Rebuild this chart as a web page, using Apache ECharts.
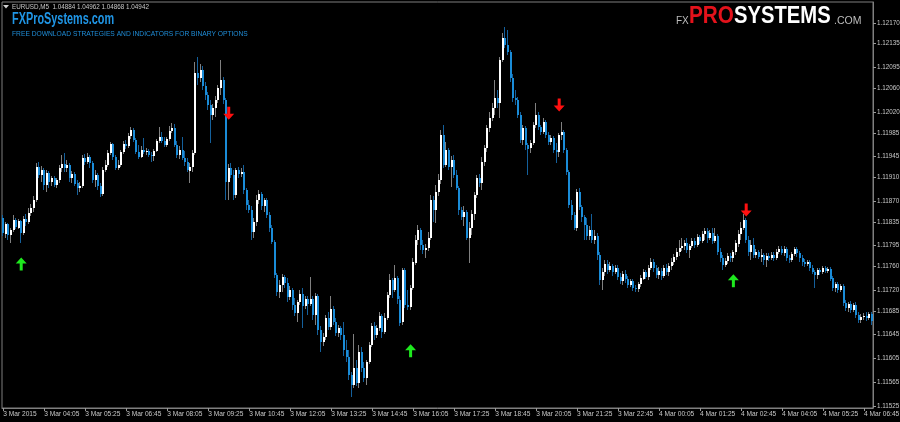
<!DOCTYPE html>
<html>
<head>
<meta charset="utf-8">
<script src="https://cdn.jsdelivr.net/npm/echarts@6/dist/echarts.min.js"></script>
<style>
  html, body { margin: 0; padding: 0; background: #000; }
</style>
</head>
<body>
<div id="main" style="width: 900px;height: 422px"></div>
<script>
// EURUSD M5, one entry per bar
const opens = [
  1.11842, 1.11816, 1.11832, 1.11813, 1.11821, 1.11838, 1.11826, 1.11837, 1.11816, 1.11840,
  1.11835, 1.11850, 1.11858, 1.11872, 1.11928, 1.11914, 1.11922, 1.11897, 1.11917, 1.11902,
  1.11909, 1.11897, 1.11906, 1.11926, 1.11933, 1.11926, 1.11931, 1.11909, 1.11916, 1.11900,
  1.11892, 1.11896, 1.11943, 1.11936, 1.11944, 1.11934, 1.11906, 1.11914, 1.11896, 1.11882,
  1.11922, 1.11931, 1.11951, 1.11966, 1.11944, 1.11926, 1.11931, 1.11953, 1.11966, 1.11963,
  1.11980, 1.11990, 1.11973, 1.11953, 1.11944, 1.11956, 1.11953, 1.11954, 1.11948, 1.11946,
  1.11954, 1.11971, 1.11978, 1.11971, 1.11965, 1.11975, 1.11988, 1.11993, 1.11965, 1.11948,
  1.11956, 1.11943, 1.11936, 1.11922, 1.11928, 1.11951, 1.12086, 1.12077, 1.12091, 1.12064,
  1.12049, 1.12032, 1.12015, 1.12027, 1.12040, 1.12060, 1.12074, 1.12040, 1.11902, 1.11926,
  1.11914, 1.11880, 1.11922, 1.11916, 1.11919, 1.11889, 1.11864, 1.11855, 1.11818, 1.11835,
  1.11872, 1.11882, 1.11862, 1.11872, 1.11847, 1.11825, 1.11801, 1.11746, 1.11717, 1.11729,
  1.11742, 1.11732, 1.11708, 1.11720, 1.11695, 1.11682, 1.11700, 1.11714, 1.11693, 1.11705,
  1.11697, 1.11705, 1.11678, 1.11710, 1.11653, 1.11633, 1.11641, 1.11673, 1.11658, 1.11688,
  1.11666, 1.11648, 1.11656, 1.11645, 1.11619, 1.11607, 1.11577, 1.11560, 1.11589, 1.11564,
  1.11616, 1.11589, 1.11572, 1.11599, 1.11628, 1.11660, 1.11645, 1.11656, 1.11677, 1.11650,
  1.11673, 1.11712, 1.11737, 1.11720, 1.11740, 1.11704, 1.11666, 1.11754, 1.11695, 1.11692,
  1.11724, 1.11767, 1.11805, 1.11821, 1.11796, 1.11788, 1.11791, 1.11808, 1.11872, 1.11855,
  1.11885, 1.11906, 1.11981, 1.11931, 1.11956, 1.11928, 1.11939, 1.11914, 1.11892, 1.11855,
  1.11843, 1.11852, 1.11808, 1.11825, 1.11848, 1.11880, 1.11909, 1.11900, 1.11936, 1.11959,
  1.11993, 1.12010, 1.12027, 1.12044, 1.12035, 1.12108, 1.12145, 1.12133, 1.12121, 1.12077,
  1.12044, 1.12040, 1.12015, 1.11973, 1.11993, 1.11965, 1.11959, 1.11968, 1.11998, 1.12015,
  1.11995, 1.11986, 1.12003, 1.11981, 1.11970, 1.11976, 1.11956, 1.11953, 1.11981, 1.11986,
  1.11956, 1.11919, 1.11864, 1.11847, 1.11825, 1.11885, 1.11860, 1.11843, 1.11830, 1.11811,
  1.11821, 1.11805, 1.11811, 1.11779, 1.11737, 1.11751, 1.11764, 1.11754, 1.11761, 1.11751,
  1.11757, 1.11742, 1.11735, 1.11747, 1.11739, 1.11729, 1.11735, 1.11724, 1.11722, 1.11730,
  1.11740, 1.11751, 1.11742, 1.11757, 1.11767, 1.11757, 1.11746, 1.11752, 1.11744, 1.11757,
  1.11751, 1.11761, 1.11767, 1.11776, 1.11784, 1.11791, 1.11794, 1.11799, 1.11788, 1.11794,
  1.11803, 1.11796, 1.11810, 1.11803, 1.11815, 1.11820, 1.11808, 1.11816, 1.11803, 1.11811,
  1.11784, 1.11774, 1.11762, 1.11769, 1.11778, 1.11774, 1.11784, 1.11799, 1.11815, 1.11825,
  1.11838, 1.11805, 1.11784, 1.11796, 1.11779, 1.11784, 1.11776, 1.11779, 1.11771, 1.11778,
  1.11774, 1.11779, 1.11774, 1.11784, 1.11789, 1.11783, 1.11789, 1.11774, 1.11771, 1.11781,
  1.11789, 1.11783, 1.11774, 1.11767, 1.11764, 1.11767, 1.11757, 1.11751, 1.11746, 1.11754,
  1.11751, 1.11757, 1.11752, 1.11756, 1.11740, 1.11724, 1.11730, 1.11720, 1.11727, 1.11698,
  1.11690, 1.11697, 1.11687, 1.11695, 1.11678, 1.11670, 1.11675, 1.11677, 1.11673, 1.11680
];
const closes = [
  1.11816, 1.11832, 1.11813, 1.11821, 1.11838, 1.11826, 1.11837, 1.11816, 1.11840, 1.11835,
  1.11850, 1.11858, 1.11872, 1.11928, 1.11914, 1.11922, 1.11897, 1.11917, 1.11902, 1.11909,
  1.11897, 1.11906, 1.11926, 1.11933, 1.11926, 1.11931, 1.11909, 1.11916, 1.11900, 1.11892,
  1.11896, 1.11943, 1.11936, 1.11944, 1.11934, 1.11906, 1.11914, 1.11896, 1.11882, 1.11922,
  1.11931, 1.11951, 1.11966, 1.11944, 1.11926, 1.11931, 1.11953, 1.11966, 1.11963, 1.11980,
  1.11990, 1.11973, 1.11953, 1.11944, 1.11956, 1.11953, 1.11954, 1.11948, 1.11946, 1.11954,
  1.11971, 1.11978, 1.11971, 1.11965, 1.11975, 1.11988, 1.11993, 1.11965, 1.11948, 1.11956,
  1.11943, 1.11936, 1.11922, 1.11928, 1.11951, 1.12086, 1.12077, 1.12091, 1.12064, 1.12049,
  1.12032, 1.12015, 1.12027, 1.12040, 1.12060, 1.12074, 1.12040, 1.11902, 1.11926, 1.11914,
  1.11880, 1.11922, 1.11916, 1.11919, 1.11889, 1.11864, 1.11855, 1.11818, 1.11835, 1.11872,
  1.11882, 1.11862, 1.11872, 1.11847, 1.11825, 1.11801, 1.11746, 1.11717, 1.11729, 1.11742,
  1.11732, 1.11708, 1.11720, 1.11695, 1.11682, 1.11700, 1.11714, 1.11693, 1.11705, 1.11697,
  1.11705, 1.11678, 1.11710, 1.11653, 1.11633, 1.11641, 1.11673, 1.11658, 1.11688, 1.11666,
  1.11648, 1.11656, 1.11645, 1.11619, 1.11607, 1.11577, 1.11560, 1.11589, 1.11564, 1.11616,
  1.11589, 1.11572, 1.11599, 1.11628, 1.11660, 1.11645, 1.11656, 1.11677, 1.11650, 1.11673,
  1.11712, 1.11737, 1.11720, 1.11740, 1.11704, 1.11666, 1.11754, 1.11695, 1.11692, 1.11724,
  1.11767, 1.11805, 1.11821, 1.11796, 1.11788, 1.11791, 1.11808, 1.11872, 1.11855, 1.11885,
  1.11906, 1.11981, 1.11931, 1.11956, 1.11928, 1.11939, 1.11914, 1.11892, 1.11855, 1.11843,
  1.11852, 1.11808, 1.11825, 1.11848, 1.11880, 1.11909, 1.11900, 1.11936, 1.11959, 1.11993,
  1.12010, 1.12027, 1.12044, 1.12035, 1.12108, 1.12145, 1.12133, 1.12121, 1.12077, 1.12044,
  1.12040, 1.12015, 1.11973, 1.11993, 1.11965, 1.11959, 1.11968, 1.11998, 1.12015, 1.11995,
  1.11986, 1.12003, 1.11981, 1.11970, 1.11976, 1.11956, 1.11953, 1.11981, 1.11986, 1.11956,
  1.11919, 1.11864, 1.11847, 1.11825, 1.11885, 1.11860, 1.11843, 1.11830, 1.11811, 1.11821,
  1.11805, 1.11811, 1.11779, 1.11737, 1.11751, 1.11764, 1.11754, 1.11761, 1.11751, 1.11757,
  1.11742, 1.11735, 1.11747, 1.11739, 1.11729, 1.11735, 1.11724, 1.11722, 1.11730, 1.11740,
  1.11751, 1.11742, 1.11757, 1.11767, 1.11757, 1.11746, 1.11752, 1.11744, 1.11757, 1.11751,
  1.11761, 1.11767, 1.11776, 1.11784, 1.11791, 1.11794, 1.11799, 1.11788, 1.11794, 1.11803,
  1.11796, 1.11810, 1.11803, 1.11815, 1.11820, 1.11808, 1.11816, 1.11803, 1.11811, 1.11784,
  1.11774, 1.11762, 1.11769, 1.11778, 1.11774, 1.11784, 1.11799, 1.11815, 1.11825, 1.11838,
  1.11805, 1.11784, 1.11796, 1.11779, 1.11784, 1.11776, 1.11779, 1.11771, 1.11778, 1.11774,
  1.11779, 1.11774, 1.11784, 1.11789, 1.11783, 1.11789, 1.11774, 1.11771, 1.11781, 1.11789,
  1.11783, 1.11774, 1.11767, 1.11764, 1.11767, 1.11757, 1.11751, 1.11746, 1.11754, 1.11751,
  1.11757, 1.11752, 1.11756, 1.11740, 1.11724, 1.11730, 1.11720, 1.11727, 1.11698, 1.11690,
  1.11697, 1.11687, 1.11695, 1.11678, 1.11670, 1.11675, 1.11677, 1.11673, 1.11680, 1.11668
];
const lows = [
  1.11811, 1.11808, 1.11805, 1.11799, 1.11818, 1.11823, 1.11823, 1.11799, 1.11813, 1.11828,
  1.11832, 1.11845, 1.11852, 1.11869, 1.11909, 1.11902, 1.11889, 1.11885, 1.11892, 1.11896,
  1.11894, 1.11892, 1.11900, 1.11919, 1.11919, 1.11919, 1.11902, 1.11900, 1.11896, 1.11880,
  1.11885, 1.11892, 1.11931, 1.11933, 1.11926, 1.11900, 1.11894, 1.11889, 1.11877, 1.11879,
  1.11919, 1.11928, 1.11948, 1.11939, 1.11922, 1.11922, 1.11928, 1.11949, 1.11958, 1.11959,
  1.11975, 1.11970, 1.11949, 1.11941, 1.11943, 1.11949, 1.11948, 1.11944, 1.11936, 1.11938,
  1.11953, 1.11968, 1.11968, 1.11961, 1.11961, 1.11971, 1.11985, 1.11961, 1.11943, 1.11941,
  1.11939, 1.11929, 1.11919, 1.11900, 1.11919, 1.11948, 1.12066, 1.12071, 1.12057, 1.12040,
  1.12023, 1.11968, 1.12007, 1.12012, 1.12035, 1.12049, 1.12034, 1.11872, 1.11872, 1.11909,
  1.11872, 1.11875, 1.11909, 1.11911, 1.11882, 1.11855, 1.11850, 1.11805, 1.11808, 1.11828,
  1.11865, 1.11855, 1.11852, 1.11842, 1.11818, 1.11798, 1.11740, 1.11710, 1.11707, 1.11717,
  1.11724, 1.11700, 1.11704, 1.11687, 1.11677, 1.11666, 1.11695, 1.11656, 1.11688, 1.11678,
  1.11693, 1.11670, 1.11661, 1.11645, 1.11616, 1.11626, 1.11636, 1.11653, 1.11653, 1.11661,
  1.11643, 1.11641, 1.11636, 1.11609, 1.11599, 1.11569, 1.11540, 1.11555, 1.11559, 1.11555,
  1.11582, 1.11565, 1.11560, 1.11596, 1.11624, 1.11636, 1.11639, 1.11651, 1.11639, 1.11646,
  1.11670, 1.11707, 1.11707, 1.11717, 1.11697, 1.11660, 1.11661, 1.11690, 1.11687, 1.11687,
  1.11720, 1.11762, 1.11796, 1.11788, 1.11781, 1.11774, 1.11786, 1.11805, 1.11835, 1.11833,
  1.11879, 1.11899, 1.11926, 1.11928, 1.11922, 1.11894, 1.11909, 1.11889, 1.11847, 1.11838,
  1.11828, 1.11805, 1.11766, 1.11813, 1.11838, 1.11875, 1.11894, 1.11889, 1.11929, 1.11953,
  1.11986, 1.12005, 1.12015, 1.12027, 1.12010, 1.12104, 1.12128, 1.12116, 1.12071, 1.12037,
  1.12032, 1.12010, 1.11968, 1.11965, 1.11956, 1.11914, 1.11951, 1.11965, 1.11993, 1.11990,
  1.11981, 1.11983, 1.11976, 1.11965, 1.11965, 1.11951, 1.11934, 1.11944, 1.11973, 1.11951,
  1.11914, 1.11858, 1.11838, 1.11821, 1.11820, 1.11855, 1.11835, 1.11805, 1.11805, 1.11805,
  1.11799, 1.11798, 1.11771, 1.11729, 1.11720, 1.11744, 1.11747, 1.11751, 1.11744, 1.11747,
  1.11737, 1.11730, 1.11729, 1.11732, 1.11724, 1.11725, 1.11719, 1.11717, 1.11717, 1.11725,
  1.11737, 1.11739, 1.11737, 1.11754, 1.11751, 1.11740, 1.11739, 1.11737, 1.11740, 1.11746,
  1.11744, 1.11754, 1.11762, 1.11771, 1.11778, 1.11786, 1.11788, 1.11783, 1.11774, 1.11791,
  1.11791, 1.11793, 1.11798, 1.11799, 1.11805, 1.11799, 1.11805, 1.11798, 1.11799, 1.11779,
  1.11767, 1.11754, 1.11759, 1.11764, 1.11767, 1.11767, 1.11779, 1.11793, 1.11805, 1.11821,
  1.11799, 1.11778, 1.11771, 1.11774, 1.11774, 1.11772, 1.11767, 1.11762, 1.11759, 1.11769,
  1.11771, 1.11769, 1.11771, 1.11781, 1.11779, 1.11778, 1.11769, 1.11766, 1.11767, 1.11778,
  1.11776, 1.11767, 1.11761, 1.11759, 1.11761, 1.11752, 1.11747, 1.11724, 1.11739, 1.11746,
  1.11747, 1.11749, 1.11749, 1.11735, 1.11719, 1.11717, 1.11715, 1.11717, 1.11693, 1.11685,
  1.11683, 1.11682, 1.11683, 1.11673, 1.11665, 1.11665, 1.11670, 1.11668, 1.11670, 1.11661
];
const highs = [
  1.11847, 1.11835, 1.11833, 1.11825, 1.11847, 1.11842, 1.11840, 1.11838, 1.11845, 1.11848,
  1.11858, 1.11865, 1.11879, 1.11934, 1.11936, 1.11929, 1.11926, 1.11922, 1.11921, 1.11912,
  1.11912, 1.11909, 1.11931, 1.11948, 1.11951, 1.11939, 1.11934, 1.11921, 1.11919, 1.11906,
  1.11902, 1.11948, 1.11949, 1.11951, 1.11948, 1.11938, 1.11922, 1.11917, 1.11900, 1.11928,
  1.11939, 1.11956, 1.11970, 1.11968, 1.11948, 1.11939, 1.11956, 1.11971, 1.11973, 1.11985,
  1.11995, 1.11993, 1.11976, 1.11965, 1.11963, 1.11976, 1.11959, 1.11958, 1.11953, 1.11958,
  1.11975, 1.11995, 1.11986, 1.11978, 1.11978, 1.11997, 1.12002, 1.12000, 1.11971, 1.11963,
  1.11978, 1.11954, 1.11943, 1.11934, 1.11956, 1.12104, 1.12113, 1.12101, 1.12098, 1.12071,
  1.12054, 1.12040, 1.12034, 1.12047, 1.12066, 1.12108, 1.12079, 1.12044, 1.11933, 1.11934,
  1.11922, 1.11926, 1.11928, 1.11926, 1.11931, 1.11892, 1.11872, 1.11862, 1.11842, 1.11880,
  1.11889, 1.11885, 1.11875, 1.11875, 1.11852, 1.11830, 1.11805, 1.11749, 1.11737, 1.11747,
  1.11746, 1.11740, 1.11727, 1.11724, 1.11707, 1.11704, 1.11720, 1.11724, 1.11710, 1.11710,
  1.11742, 1.11710, 1.11715, 1.11714, 1.11660, 1.11648, 1.11678, 1.11683, 1.11710, 1.11693,
  1.11673, 1.11661, 1.11660, 1.11666, 1.11636, 1.11619, 1.11582, 1.11646, 1.11602, 1.11628,
  1.11624, 1.11599, 1.11602, 1.11633, 1.11665, 1.11666, 1.11661, 1.11683, 1.11680, 1.11682,
  1.11717, 1.11747, 1.11740, 1.11762, 1.11744, 1.11710, 1.11757, 1.11757, 1.11720, 1.11729,
  1.11774, 1.11813, 1.11830, 1.11825, 1.11805, 1.11798, 1.11818, 1.11880, 1.11879, 1.11897,
  1.11916, 1.11990, 1.11998, 1.11970, 1.11959, 1.11946, 1.11948, 1.11922, 1.11896, 1.11860,
  1.11862, 1.11855, 1.11835, 1.11855, 1.11885, 1.11914, 1.11916, 1.11944, 1.11965, 1.11998,
  1.12020, 1.12035, 1.12074, 1.12057, 1.12113, 1.12153, 1.12163, 1.12158, 1.12124, 1.12084,
  1.12057, 1.12045, 1.12020, 1.11998, 1.11997, 1.11968, 1.11973, 1.12003, 1.12035, 1.12020,
  1.11998, 1.12010, 1.12007, 1.11986, 1.11981, 1.11980, 1.11968, 1.11985, 1.12003, 1.11990,
  1.11959, 1.11922, 1.11872, 1.11852, 1.11890, 1.11892, 1.11864, 1.11847, 1.11842, 1.11828,
  1.11848, 1.11821, 1.11816, 1.11784, 1.11757, 1.11771, 1.11771, 1.11767, 1.11764, 1.11762,
  1.11762, 1.11749, 1.11752, 1.11754, 1.11744, 1.11739, 1.11739, 1.11729, 1.11734, 1.11746,
  1.11756, 1.11754, 1.11762, 1.11774, 1.11772, 1.11762, 1.11759, 1.11757, 1.11762, 1.11764,
  1.11766, 1.11774, 1.11781, 1.11791, 1.11805, 1.11808, 1.11805, 1.11808, 1.11798, 1.11808,
  1.11808, 1.11815, 1.11813, 1.11820, 1.11825, 1.11825, 1.11821, 1.11825, 1.11825, 1.11815,
  1.11791, 1.11779, 1.11774, 1.11783, 1.11783, 1.11788, 1.11805, 1.11821, 1.11835, 1.11848,
  1.11842, 1.11811, 1.11805, 1.11808, 1.11789, 1.11788, 1.11789, 1.11783, 1.11783, 1.11783,
  1.11784, 1.11784, 1.11789, 1.11794, 1.11794, 1.11794, 1.11793, 1.11779, 1.11784, 1.11793,
  1.11793, 1.11786, 1.11779, 1.11772, 1.11771, 1.11771, 1.11762, 1.11754, 1.11757, 1.11757,
  1.11761, 1.11761, 1.11759, 1.11759, 1.11744, 1.11734, 1.11734, 1.11730, 1.11730, 1.11704,
  1.11700, 1.11702, 1.11698, 1.11700, 1.11683, 1.11680, 1.11682, 1.11683, 1.11683, 1.11683
];

// time labels under the axis, one every 16 bars
const tickLabels = [
  '3 Mar 2015', '3 Mar 04:05', '3 Mar 05:25', '3 Mar 06:45', '3 Mar 08:05', '3 Mar 09:25',
  '3 Mar 10:45', '3 Mar 12:05', '3 Mar 13:25', '3 Mar 14:45', '3 Mar 16:05', '3 Mar 17:25',
  '3 Mar 18:45', '3 Mar 20:05', '3 Mar 21:25', '3 Mar 22:45', '4 Mar 00:05', '4 Mar 01:25',
  '4 Mar 02:45', '4 Mar 04:05', '4 Mar 05:25', '4 Mar 06:45'
];
const priceTicks = [
  1.11525, 1.11565, 1.11605, 1.11645, 1.11685, 1.11720, 1.11760, 1.11795, 1.11835,
  1.11870, 1.11910, 1.11945, 1.11985, 1.12020, 1.12060, 1.12095, 1.12135, 1.12170
];

// indicator arrows
const buyBars = [7, 159, 285];
const buyPrices = [1.11764, 1.11618, 1.11736];
const sellBars = [88, 217, 290];
const sellPrices = [1.12018, 1.12032, 1.11855];

const barIdx = opens.map((o, i) => i);
const candleData = opens.map((o, i) => [i, o, closes[i], lows[i], highs[i]]);

const arrowPath = 'path://M4,13 L4,6 L0,6 L5.5,0 L11,6 L7,6 L7,13 Z';
const axisFont = "'Liberation Sans', sans-serif";

let myChart = echarts.init(document.getElementById('main'));

let option = {
  backgroundColor: '#000',
  animation: false,
  grid: {
    left: 2, right: 27, top: 2, bottom: 14,
    outerBoundsMode: 'none',
    containLabel: false,
    show: true,
    borderColor: '#7f7f7f',
    borderWidth: 1,
    backgroundColor: '#000'
  },
  xAxis: {
    type: 'category',
    data: barIdx,
    boundaryGap: true,
    axisLine: { show: true, lineStyle: { color: '#7f7f7f' } },
    axisTick: { show: true, interval: 15, alignWithLabel: true, length: 3, lineStyle: { color: '#9a9a9a' } },
    axisLabel: {
      interval: 15,
      align: 'left',
      margin: 3,
      color: '#c8c8c8',
      fontSize: 6.6,
      fontFamily: axisFont,
      formatter: function (v, i) { return tickLabels[i / 16] || ''; }
    },
    splitLine: { show: false }
  },
  yAxis: {
    type: 'value',
    position: 'right',
    min: 1.115216,
    max: 1.122053,
    axisLine: { show: true, lineStyle: { color: '#7f7f7f' } },
    axisTick: { show: true, length: 3, customValues: priceTicks, lineStyle: { color: '#9a9a9a' } },
    axisLabel: {
      customValues: priceTicks,
      margin: 4,
      color: '#c8c8c8',
      fontSize: 6.3,
      fontFamily: axisFont,
      formatter: function (v) { return v.toFixed(5); }
    },
    splitLine: { show: false }
  },
  graphic: [
    { type: 'polygon', shape: { points: [[3, 5], [9, 5], [6, 8.5]] }, style: { fill: '#d0d0d0' } },
    { type: 'text', x: 12, y: 7,
      style: { text: 'EURUSD,M5  1.04884 1.04962 1.04868 1.04942', fill: '#c8c8c8',
               font: "6.3px 'Liberation Sans', sans-serif", textVerticalAlign: 'middle', verticalAlign: 'middle' } },
    { type: 'text', x: 12, y: 20, scaleX: 0.68,
      style: { text: 'FXProSystems.com', fill: '#2096e6',
               font: "bold 16px 'Liberation Sans', sans-serif", textVerticalAlign: 'middle', verticalAlign: 'middle' } },
    { type: 'text', x: 12, y: 34,
      style: { text: 'FREE DOWNLOAD STRATEGIES AND INDICATORS FOR BINARY OPTIONS', fill: '#1f8dd8',
               font: "6.7px 'Liberation Sans', sans-serif", textVerticalAlign: 'middle', verticalAlign: 'middle' } },
    { type: 'text', x: 676, y: 21,
      style: { text: 'FX', fill: '#bdbdbd',
               font: "10px 'Liberation Sans', sans-serif", textVerticalAlign: 'middle', verticalAlign: 'middle' } },
    { type: 'text', x: 689, y: 17, scaleX: 0.9,
      style: { text: 'PRO', fill: '#e3121b',
               font: "bold 23px 'Liberation Sans', sans-serif", textVerticalAlign: 'middle', verticalAlign: 'middle' } },
    { type: 'text', x: 734, y: 17, scaleX: 0.88,
      style: { text: 'SYSTEMS', fill: '#ffffff',
               font: "bold 23px 'Liberation Sans', sans-serif", textVerticalAlign: 'middle', verticalAlign: 'middle' } },
    { type: 'text', x: 834, y: 21,
      style: { text: '.COM', fill: '#bdbdbd',
               font: "10.5px 'Liberation Sans', sans-serif", textVerticalAlign: 'middle', verticalAlign: 'middle' } }
  ],
  series: [
    {
      type: 'custom',
      clip: true,
      data: candleData,
      encode: { x: 0, y: [1, 2, 3, 4] },
      renderItem: function (params, api) {
        const i = api.value(0);
        const o = api.coord([i, api.value(1)]);
        const c = api.coord([i, api.value(2)]);
        const lo = api.coord([i, api.value(3)]);
        const hi = api.coord([i, api.value(4)]);
        const up = api.value(2) >= api.value(1);
        const x = Math.round(o[0]) - 1;
        const top = Math.round(Math.min(o[1], c[1]));
        const bh = Math.max(1, Math.round(Math.abs(o[1] - c[1])));
        const wy = Math.round(hi[1]);
        const wh = Math.max(1, Math.round(lo[1]) - wy);
        return {
          type: 'group',
          children: [
            { type: 'rect', shape: { x: x, y: wy, width: 1, height: wh },
              style: { fill: up ? '#808080' : '#14609c' } },
            { type: 'rect', shape: { x: x, y: top, width: 2, height: bh },
              style: { fill: up ? '#ffffff' : '#1a8cd8' } }
          ]
        };
      }
    },
    {
      type: 'scatter',
      data: buyBars.map((b, i) => [b, buyPrices[i]]),
      symbol: arrowPath,
      symbolSize: [11, 13],
      itemStyle: { color: '#1ee81e', opacity: 1 },
      silent: true
    },
    {
      type: 'scatter',
      data: sellBars.map((b, i) => [b, sellPrices[i]]),
      symbol: arrowPath,
      symbolSize: [11, 13],
      symbolRotate: 180,
      itemStyle: { color: '#ff1010', opacity: 1 },
      silent: true
    }
  ]
};

myChart.setOption(option);
</script>
</body>
</html>
